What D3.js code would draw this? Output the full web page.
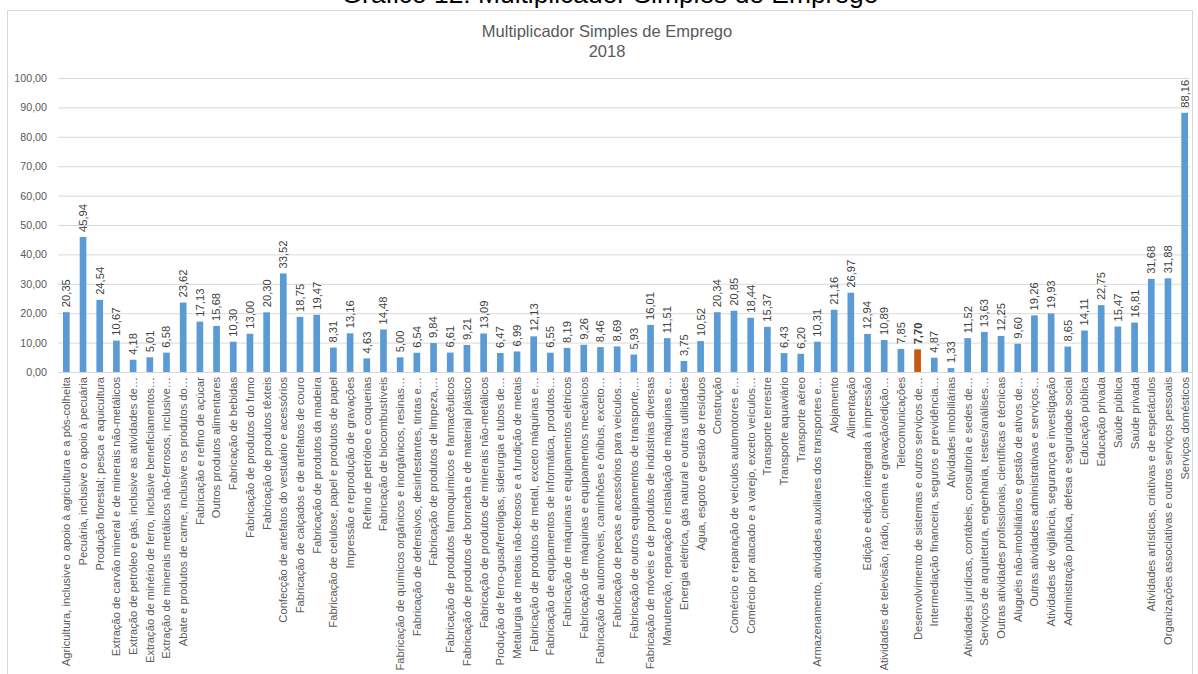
<!DOCTYPE html>
<html>
<head>
<meta charset="utf-8">
<script src="https://cdn.jsdelivr.net/npm/d3@7"></script>
<style>
  body { margin: 0; background: #fff; }
  svg { display: block; font-family: "Liberation Sans", Arial, sans-serif; }
</style>
</head>
<body>
<svg id="canvas"></svg>
<script>
// setores e multiplicadores (2018)
let sectors = [
  'Agricultura, inclusive o apoio à agricultura e a pós-colheita',
  'Pecuária, inclusive o apoio à pecuária',
  'Produção florestal; pesca e aquicultura',
  'Extração de carvão mineral e de minerais não-metálicos',
  'Extração de petróleo e gás, inclusive as atividades de…',
  'Extração de minério de ferro, inclusive beneficiamentos…',
  'Extração de minerais metálicos não-ferrosos, inclusive…',
  'Abate e produtos de carne, inclusive os produtos do…',
  'Fabricação e refino de açúcar',
  'Outros produtos alimentares',
  'Fabricação de bebidas',
  'Fabricação de produtos do fumo',
  'Fabricação de produtos têxteis',
  'Confecção de artefatos do vestuário e acessórios',
  'Fabricação de calçados e de artefatos de couro',
  'Fabricação de produtos da madeira',
  'Fabricação de celulose, papel e produtos de papel',
  'Impressão e reprodução de gravações',
  'Refino de petróleo e coquerias',
  'Fabricação de biocombustíveis',
  'Fabricação de químicos orgânicos e inorgânicos, resinas…',
  'Fabricação de defensivos, desinfestantes, tintas e…',
  'Fabricação de produtos de limpeza,…',
  'Fabricação de produtos farmoquímicos e farmacêuticos',
  'Fabricação de produtos de borracha e de material plástico',
  'Fabricação de produtos de minerais não-metálicos',
  'Produção de ferro-gusa/ferroligas, siderurgia e tubos de…',
  'Metalurgia de metais não-ferosos e a fundição de metais',
  'Fabricação de produtos de metal, exceto máquinas e…',
  'Fabricação de equipamentos de informática, produtos…',
  'Fabricação de máquinas e equipamentos elétricos',
  'Fabricação de máquinas e equipamentos mecânicos',
  'Fabricação de automóveis, caminhões e ônibus, exceto…',
  'Fabricação de peças e acessórios para veículos…',
  'Fabricação de outros equipamentos de transporte,…',
  'Fabricação de móveis e de produtos de indústrias diversas',
  'Manutenção, reparação e instalação de máquinas e…',
  'Energia elétrica, gás natural e outras utilidades',
  'Água, esgoto e gestão de resíduos',
  'Construção',
  'Comércio e reparação de veículos automotores e…',
  'Comércio por atacado e a varejo, exceto veículos…',
  'Transporte terrestre',
  'Transporte aquaviário',
  'Transporte aéreo',
  'Armazenamento, atividades auxiliares dos transportes e…',
  'Alojamento',
  'Alimentação',
  'Edição e edição integrada à impressão',
  'Atividades de televisão, rádio, cinema e gravação/edição…',
  'Telecomunicações',
  'Desenvolvimento de sistemas e outros serviços de…',
  'Intermediação financeira, seguros e previdência…',
  'Atividades imobiliárias',
  'Atividades jurídicas, contábeis, consultoria e sedes de…',
  'Serviços de arquitetura, engenharia, testes/análises…',
  'Outras atividades profissionais, científicas e técnicas',
  'Aluguéis não-imobiliários e gestão de ativos de…',
  'Outras atividades administrativas e serviços…',
  'Atividades de vigilância, segurança e investigação',
  'Administração pública, defesa e seguridade social',
  'Educação pública',
  'Educação privada',
  'Saúde pública',
  'Saúde privada',
  'Atividades artísticas, criativas e de espetáculos',
  'Organizações associativas e outros serviços pessoais',
  'Serviços domésticos'
]

let multipliers = [
  20.35, 45.94, 24.54, 10.67, 4.18, 5.01, 6.58, 23.62, 17.13, 15.68,
  10.30, 13.00, 20.30, 33.52, 18.75, 19.47, 8.31, 13.16, 4.63, 14.48,
  5.00, 6.54, 9.84, 6.61, 9.21, 13.09, 6.47, 6.99, 12.13, 6.55,
  8.19, 9.26, 8.46, 8.69, 5.93, 16.01, 11.51, 3.75, 10.52, 20.34,
  20.85, 18.44, 15.37, 6.43, 6.20, 10.31, 21.16, 26.97, 12.94, 10.89,
  7.85, 7.70, 4.87, 1.33, 11.52, 13.63, 12.25, 9.60, 19.26, 19.93,
  8.65, 14.11, 22.75, 15.47, 16.81, 31.68, 31.88, 88.16
]

let yTicks = [0, 10, 20, 30, 40, 50, 60, 70, 80, 90, 100]

let highlighted = 'Desenvolvimento de sistemas e outros serviços de…'

let width = 1198
let height = 674

let values = sectors.map((s, i) => ({ sector: s, value: multipliers[i] }))

let ptBR = d3.formatLocale({ decimal: ',', thousands: '.', grouping: [3], currency: ['R$', ''] })
let fmt = ptBR.format('.2f')

let svg = d3.select('#canvas')
  .attr('width', width)
  .attr('height', height)

let xScale = d3.scaleBand()
  .domain(sectors)
  .range([58, 1193])
  .paddingInner(0.6)
  .paddingOuter(0.3)

let yScale = d3.scaleLinear()
  .domain([0, 100])
  .range([372, 78])

// moldura do gráfico
svg.append('rect')
  .attr('x', 7.5)
  .attr('y', 10.5)
  .attr('width', 1185)
  .attr('height', 700)
  .attr('fill', 'none')
  .attr('stroke', '#d9d9d9')

// título do documento (cortado no topo da imagem)
svg.append('text')
  .attr('x', 610)
  .attr('y', 3)
  .attr('text-anchor', 'middle')
  .attr('font-size', 26.4)
  .attr('fill', '#000')
  .text('Gráfico 12: Multiplicador Simples de Emprego')

svg.append('text')
  .attr('x', 607)
  .attr('y', 37)
  .attr('text-anchor', 'middle')
  .attr('font-size', 16.5)
  .attr('fill', '#595959')
  .text('Multiplicador Simples de Emprego')

svg.append('text')
  .attr('x', 607)
  .attr('y', 57)
  .attr('text-anchor', 'middle')
  .attr('font-size', 16.5)
  .attr('fill', '#595959')
  .text('2018')

// grade e eixo y
let yAxis = d3.axisLeft(yScale)
  .tickValues(yTicks)
  .tickSize(-(1190 - 58))
  .tickPadding(11)
  .tickFormat(fmt)

svg.append('g')
  .attr('id', 'y-axis')
  .attr('transform', 'translate(58, 0)')
  .call(yAxis)
  .call(g => g.select('.domain').remove())
  .call(g => g.selectAll('.tick line').attr('stroke', '#d9d9d9'))
  .call(g => g.selectAll('.tick text')
    .attr('font-size', 10.7)
    .attr('font-family', '"Liberation Sans", Arial, sans-serif')
    .attr('fill', '#595959'))

// barras
svg.selectAll('rect.bar')
  .data(values)
  .enter()
  .append('rect')
  .attr('class', 'bar')
  .attr('x', (item) => xScale(item.sector))
  .attr('width', xScale.bandwidth())
  .attr('y', (item) => yScale(item.value))
  .attr('height', (item) => yScale(0) - yScale(item.value))
  .attr('fill', (item) => item.sector === highlighted ? '#c55a11' : '#5b9bd5')

// eixo x
let xAxis = d3.axisBottom(xScale)
  .tickSize(0)
  .tickPadding(0)

svg.append('g')
  .attr('id', 'x-axis')
  .attr('transform', 'translate(0, ' + yScale(0) + ')')
  .call(xAxis)
  .call(g => g.select('.domain').attr('stroke', '#d9d9d9').attr('d', 'M58,0.5H1193'))
  .call(g => g.selectAll('.tick text')
    .attr('font-size', 11.2)
    .attr('font-family', '"Liberation Sans", Arial, sans-serif')
    .attr('fill', '#595959')
    .attr('text-anchor', 'end')
    .attr('dy', '0.35em')
    .attr('transform', 'translate(0, 5) rotate(-90)')
    .attr('x', 0)
    .attr('y', 0))

// rótulos de valor
svg.selectAll('text.value')
  .data(values)
  .enter()
  .append('text')
  .attr('class', 'value')
  .attr('transform', (item) => 'translate(' + (xScale(item.sector) + xScale.bandwidth() / 2) + ', ' + (yScale(item.value) - 5) + ') rotate(-90)')
  .attr('dy', '0.35em')
  .attr('font-size', 11.2)
  .attr('font-weight', (item) => item.sector === highlighted ? 'bold' : 'normal')
  .attr('fill', '#404040')
  .text((item) => fmt(item.value))
</script>
</body>
</html>
